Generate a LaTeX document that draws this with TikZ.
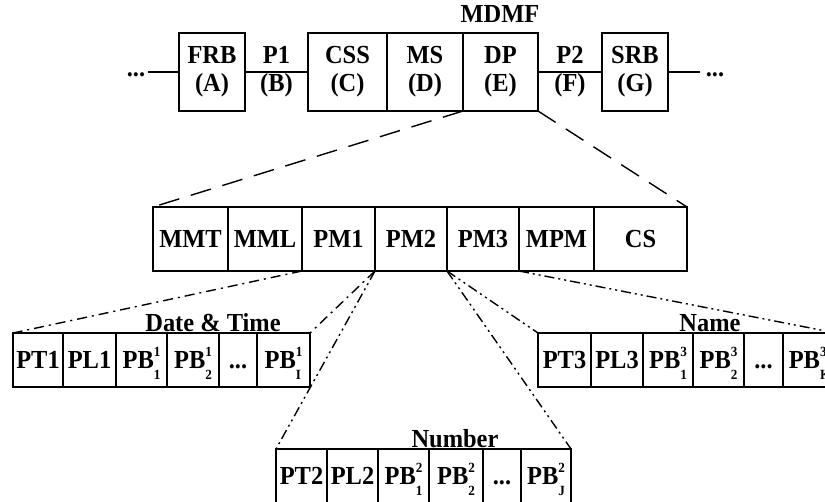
\documentclass[tikz,border=0pt]{standalone}
\usepackage{fontspec}
\setmainfont{Liberation Serif}[FakeStretch=0.94]
\usetikzlibrary{positioning}
% PB field with its upper and lower index stacked
\newcommand{\pbidx}[2]{PB\raisebox{-11pt}{\vbox{\fontsize{14}{23}\selectfont\hbox{#1}\hbox{#2}}}}
\tikzset{
  topcell/.style={draw,line width=2.6pt,minimum height=78pt,inner sep=0pt,outer sep=0pt,
              align=center,font=\bfseries\fontsize{26}{28}\selectfont},
  midcell/.style={draw,line width=2.6pt,minimum height=64pt,inner sep=0pt,outer sep=0pt,
              font=\bfseries\fontsize{26}{28}\selectfont},
  lowcell/.style={draw,line width=2.6pt,minimum height=54pt,inner sep=0pt,outer sep=0pt,
              text height=17pt,text depth=0pt,font=\bfseries\fontsize{26}{28}\selectfont},
  link/.style={line width=2.8pt},
  linklbl/.style={align=center,inner sep=0pt,font=\bfseries\fontsize{26}{28}\selectfont},
  title/.style={inner sep=1pt,font=\bfseries\fontsize{26}{28}\selectfont},
  zoomdash/.style={line width=1.4pt,dash pattern=on 21pt off 12pt},
  dashdot/.style={line width=1.4pt,dash pattern=on 10pt off 5pt on 2pt off 5pt},
  dashdotdot/.style={line width=1.4pt,dash pattern=on 10pt off 4pt on 2pt off 4pt on 2pt off 4pt}
}
\begin{document}
\begin{tikzpicture}[x=1pt,y=-1pt]
  \useasboundingbox (0,0) rectangle (825,501);
  \clip (0,0) rectangle (825,501);

  % message stream
  \node[topcell,minimum width=66pt] (frb) at (212,72) {FRB\\(A)};
  \node[topcell,minimum width=79pt,anchor=west] (css) at (308,72) {CSS\\(C)};
  \node[topcell,minimum width=76pt,right=0pt of css] (ms) {MS\\(D)};
  \node[topcell,minimum width=75pt,right=0pt of ms] (dp) {DP\\(E)};
  \node[topcell,minimum width=66pt] (srb) at (635,72) {SRB\\(G)};
  \node[title,anchor=base] (mdmf) at (500,22) {MDMF};
  \node[linklbl,anchor=base] (ldots) at (136,76) {...};
  \node[linklbl,anchor=base] (rdots) at (715,76) {...};
  \coordinate (lend) at (148,72);
  \coordinate (rend) at (700,72);

  \draw[link] (lend) -- (frb);
  \draw[link] (frb) -- node[linklbl]{P1\\(B)} (css);
  \draw[link] (dp) -- node[linklbl]{P2\\(F)} (srb);
  \draw[link] (srb) -- (rend);

  % data parameters
  \node[midcell,minimum width=75pt,anchor=west] (mmt) at (153,239) {MMT};
  \node[midcell,minimum width=74pt,right=0pt of mmt] (mml) {MML};
  \node[midcell,minimum width=73pt,right=0pt of mml] (pm1) {PM1};
  \node[midcell,minimum width=72pt,right=0pt of pm1] (pm2) {PM2};
  \node[midcell,minimum width=72pt,right=0pt of pm2] (pm3) {PM3};
  \node[midcell,minimum width=75pt,right=0pt of pm3] (mpm) {MPM};
  \node[midcell,minimum width=93pt,right=0pt of mpm] (cs) {CS};

  \draw[zoomdash] (dp.south west) -- (mmt.north west);
  \draw[zoomdash] (dp.south east) -- (cs.north east);

  % date and time
  \node[lowcell,minimum width=50pt,anchor=west] (pt1) at (13,360) {PT1};
  \node[lowcell,minimum width=53pt,right=0pt of pt1] (pl1) {PL1};
  \node[lowcell,minimum width=51pt,right=0pt of pl1] (pb1a) {\pbidx{1}{1}};
  \node[lowcell,minimum width=52pt,right=0pt of pb1a] (pb1b) {\pbidx{1}{2}};
  \node[lowcell,minimum width=38pt,right=0pt of pb1b] (pb1d) {...};
  \node[lowcell,minimum width=53pt,right=0pt of pb1d] (pb1i) {\pbidx{1}{I}};
  \node[title,anchor=south] (datetime) at (213,333) {Date \& Time};

  % number
  \node[lowcell,minimum width=51pt,anchor=west] (pt2) at (276,476) {PT2};
  \node[lowcell,minimum width=51pt,right=0pt of pt2] (pl2) {PL2};
  \node[lowcell,minimum width=51pt,right=0pt of pl2] (pb2a) {\pbidx{2}{1}};
  \node[lowcell,minimum width=54pt,right=0pt of pb2a] (pb2b) {\pbidx{2}{2}};
  \node[lowcell,minimum width=38pt,right=0pt of pb2b] (pb2d) {...};
  \node[lowcell,minimum width=50pt,right=0pt of pb2d] (pb2j) {\pbidx{2}{J}};
  \node[title,anchor=south] (number) at (455,449) {Number};

  % name
  \node[lowcell,minimum width=53pt,anchor=west] (pt3) at (538,360) {PT3};
  \node[lowcell,minimum width=52pt,right=0pt of pt3] (pl3) {PL3};
  \node[lowcell,minimum width=50pt,right=0pt of pl3] (pb3a) {\pbidx{3}{1}};
  \node[lowcell,minimum width=51pt,right=0pt of pb3a] (pb3b) {\pbidx{3}{2}};
  \node[lowcell,minimum width=39pt,right=0pt of pb3b] (pb3d) {...};
  \node[lowcell,minimum width=53pt,right=0pt of pb3d] (pb3k) {\pbidx{3}{K}};
  \node[title,anchor=south] (name) at (710,333) {Name};

  \draw[dashdot] (pm1.south west) -- (pt1.north west);
  \draw[dashdot] (pm1.south east) -- (pb1i.north east);
  \draw[dashdotdot] (pm2.south west) -- (pt2.north west);
  \draw[dashdotdot] (pm2.south east) -- (pb2j.north east);
  \draw[dashdotdot] (pm3.south west) -- (pt3.north west);
  \draw[dashdotdot] (pm3.south east) -- (pb3k.north east);
\end{tikzpicture}
\end{document}
